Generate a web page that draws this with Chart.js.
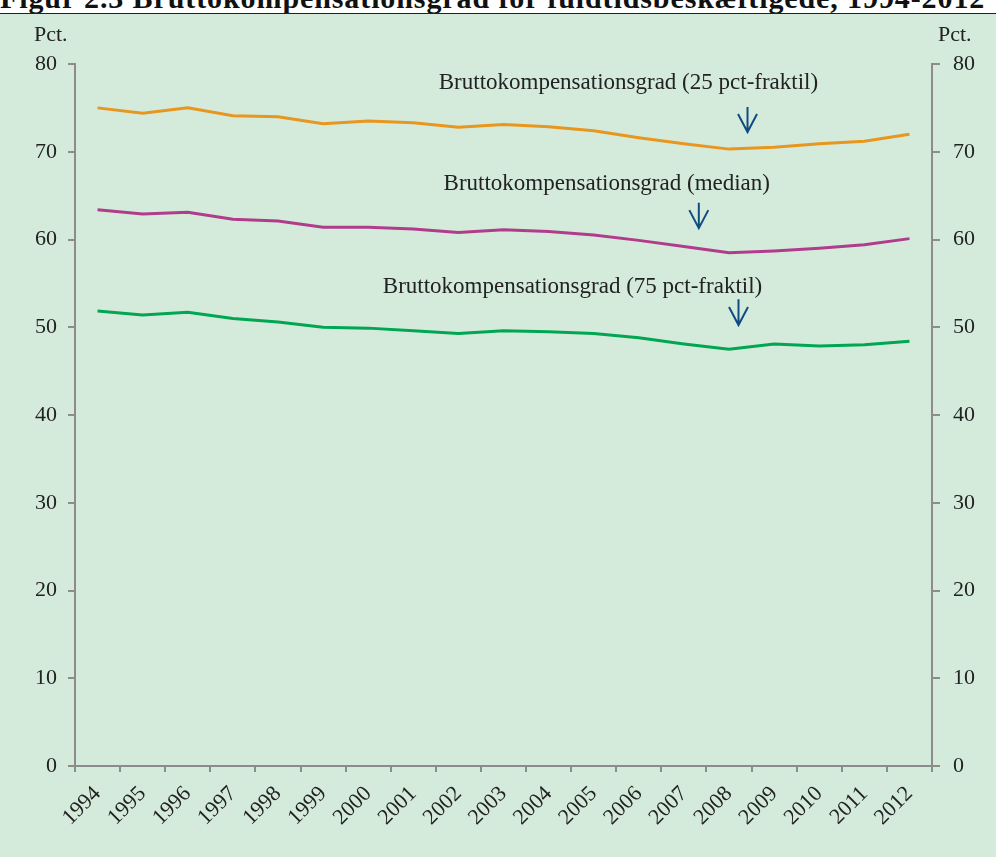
<!DOCTYPE html>
<html>
<head>
<meta charset="utf-8">
<script src="https://cdn.jsdelivr.net/npm/chart.js@4/dist/chart.umd.min.js"></script>
<style>
  html, body { margin: 0; padding: 0; background: #ffffff; width: 996px; height: 857px; overflow: hidden; }
  #title { position: absolute; left: 0; top: -17px; white-space: nowrap; font-family: "Liberation Serif", serif; font-weight: bold; font-size: 30px; line-height: 30px; letter-spacing: 0.9px; color: #111; }
  #wrap { position: absolute; left: 0; top: 12.5px; width: 996px; height: 845px; background: #d4ebdb; border-top: 1.5px solid #222; }
  canvas { display: block; }
</style>
</head>
<body>
<div id="title">Figur 2.3 Bruttokompensationsgrad for fuldtidsbeskæftigede, 1994-2012</div>
<div id="wrap"><canvas id="c" width="996" height="843"></canvas></div>
<script>
const years = ['1994','1995','1996','1997','1998','1999','2000','2001','2002','2003','2004','2005','2006','2007','2008','2009','2010','2011','2012'];
const fraktil25 = [75.0, 74.4, 75.0, 74.1, 74.0, 73.2, 73.5, 73.3, 72.8, 73.1, 72.85, 72.4, 71.6, 70.9, 70.3, 70.5, 70.9, 71.2, 72.0];
const median    = [63.4, 62.9, 63.1, 62.3, 62.1, 61.4, 61.4, 61.2, 60.8, 61.1, 60.9, 60.5, 59.9, 59.2, 58.5, 58.7, 59.0, 59.4, 60.1];
const fraktil75 = [51.85, 51.4, 51.7, 51.0, 50.6, 50.0, 49.9, 49.6, 49.3, 49.6, 49.5, 49.3, 48.8, 48.1, 47.5, 48.1, 47.85, 48.0, 48.4];
const yTicks = [0, 10, 20, 30, 40, 50, 60, 70, 80];
const seriesNames = ['Bruttokompensationsgrad (25 pct-fraktil)', 'Bruttokompensationsgrad (median)', 'Bruttokompensationsgrad (75 pct-fraktil)'];
// annotation anchors in data units: text centre (category index, value), arrow (index, top value, bottom value)
const labelIndex = [11.77, 11.29, 10.53];
const labelValue = [77.8, 66.3, 54.6];
const arrowIndex = [14.41, 13.33, 14.21];
const arrowTop   = [75.1, 64.2, 53.2];
const arrowBottom= [72.25, 61.3, 50.25];

const FONT = '"Liberation Serif", serif';
const AXIS = '#8c8c8c';

const annotations = {
  id: 'annotations',
  afterDatasetsDraw(chart) {
    const ctx = chart.ctx, x = chart.scales.x, y = chart.scales.y;
    ctx.save();
    ctx.font = '23px ' + FONT;
    ctx.fillStyle = '#222';
    ctx.textAlign = 'center';
    ctx.textBaseline = 'middle';
    for (let i = 0; i < seriesNames.length; i++) {
      ctx.fillText(seriesNames[i], x.getPixelForValue(labelIndex[i]), y.getPixelForValue(labelValue[i]));
      const ax = x.getPixelForValue(arrowIndex[i]);
      const t = y.getPixelForValue(arrowTop[i]);
      const b = y.getPixelForValue(arrowBottom[i]);
      ctx.strokeStyle = '#0f4c81';
      ctx.lineWidth = 2;
      ctx.beginPath();
      ctx.moveTo(ax, t); ctx.lineTo(ax, b);
      ctx.moveTo(ax - 9.5, b - 18); ctx.lineTo(ax, b); ctx.lineTo(ax + 9.5, b - 18);
      ctx.stroke();
    }
    // unit labels
    ctx.textBaseline = 'middle';
    ctx.font = '22px ' + FONT;
    ctx.textAlign = 'left';
    ctx.fillText('Pct.', 34, chart.chartArea.top - 29);
    ctx.fillText('Pct.', 938, chart.chartArea.top - 29);
    ctx.restore();
  }
};

const mk = (data, color) => ({ data, borderColor: color, backgroundColor: color, borderWidth: 3, pointRadius: 0, tension: 0, fill: false });

new Chart(document.getElementById('c'), {
  type: 'line',
  data: {
    labels: years,
    datasets: [
      mk(fraktil25, '#e8961e'),
      mk(median, '#b03c8c'),
      mk(fraktil75, '#00a651')
    ]
  },
  options: {
    responsive: false,
    animation: false,
    events: [],
    layout: { padding: { top: 50, left: 0, right: 0, bottom: 0 } },
    plugins: { legend: { display: false }, tooltip: { enabled: false }, title: { display: false } },
    scales: {
      x: {
        offset: true,
        grid: { offset: true, drawOnChartArea: false, color: AXIS, lineWidth: 2, tickLength: 6 },
        border: { color: AXIS, width: 2 },
        ticks: { font: { family: FONT, size: 22 }, color: '#222', maxRotation: 45, minRotation: 45, padding: 9, autoSkip: false },
        afterFit(s) { s.height = 91; }
      },
      y: {
        position: 'left', min: 0, max: 80,
        afterBuildTicks(s) { s.ticks = yTicks.map(v => ({ value: v })); },
        grid: { drawOnChartArea: false, color: AXIS, lineWidth: 2, tickLength: 7 },
        border: { color: AXIS, width: 2 },
        ticks: { font: { family: FONT, size: 22 }, color: '#222', padding: 11 },
        afterFit(s) { s.width = 75; }
      },
      y2: {
        position: 'right', min: 0, max: 80,
        afterBuildTicks(s) { s.ticks = yTicks.map(v => ({ value: v })); },
        grid: { drawOnChartArea: false, color: AXIS, lineWidth: 2, tickLength: 8 },
        border: { color: AXIS, width: 2 },
        ticks: { font: { family: FONT, size: 22 }, color: '#222', padding: 13 },
        afterFit(s) { s.width = 64; }
      }
    }
  },
  plugins: [annotations]
});
</script>
</body>
</html>
